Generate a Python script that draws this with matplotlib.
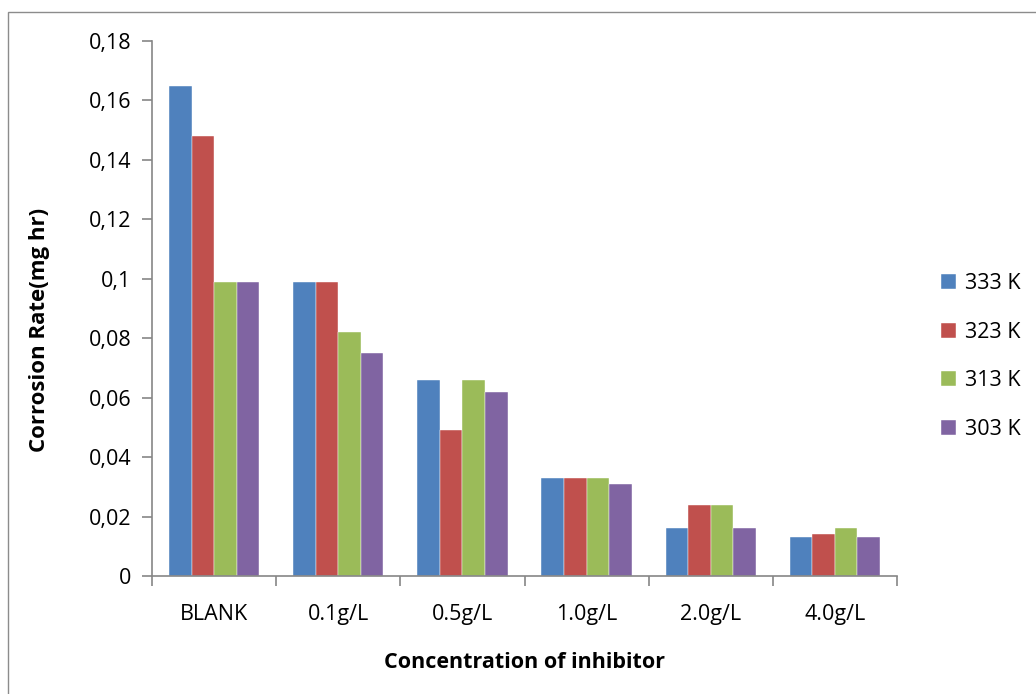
import matplotlib
matplotlib.use("Agg")
import matplotlib.pyplot as plt
import numpy as np
from matplotlib.patches import Rectangle
from matplotlib.ticker import FixedLocator

categories = ["BLANK", "0.1g/L", "0.5g/L", "1.0g/L", "2.0g/L", "4.0g/L"]
series_names = ["333 K", "323 K", "313 K", "303 K"]
s333 = [0.165, 0.099, 0.066, 0.033, 0.016, 0.013]
s323 = [0.148, 0.099, 0.049, 0.033, 0.024, 0.014]
s313 = [0.099, 0.082, 0.066, 0.033, 0.024, 0.016]
s303 = [0.099, 0.075, 0.062, 0.031, 0.016, 0.013]
yticks = [0, 0.02, 0.04, 0.06, 0.08, 0.1, 0.12, 0.14, 0.16, 0.18]
ytick_labels = ["0", "0,02", "0,04", "0,06", "0,08", "0,1", "0,12", "0,14", "0,16", "0,18"]
colors = ["#4F81BD", "#C0504D", "#9BBB59", "#8064A2"]

plt.rcParams['font.family'] = ['Open Sans', 'DejaVu Sans']

fig = plt.figure(figsize=(10.36, 6.94), dpi=100)
fig.patches.append(Rectangle((8/1036, -0.1), 1.2, 1 - 12/694 + 0.1, transform=fig.transFigure,
                             fill=False, edgecolor="#8C8C8C", linewidth=1.0))
ax = fig.add_axes([152/1036, 1 - 576/694, (897 - 152)/1036, (576 - 41)/694])

x = np.arange(len(categories))
w = 1/5.5
data = [s333, s323, s313, s303]
for i, (vals, name, c) in enumerate(zip(data, series_names, colors)):
    ax.bar(x + (i - 1.5) * w, vals, width=w, color=c, label=name, edgecolor="white", linewidth=0.3)

ax.set_xlim(-0.5, len(categories) - 0.5)
ax.set_ylim(0, 0.18)
ax.set_yticks(yticks)
ax.set_yticklabels(ytick_labels, fontsize=15.5)
ax.set_xticks(x)
ax.set_xticklabels(categories, fontsize=15.5)
ax.tick_params(axis='x', which='major', length=0, pad=20)
ax.xaxis.set_minor_locator(FixedLocator(np.arange(-0.5, len(categories), 1.0)))
ax.tick_params(axis='x', which='minor', length=7, color="#868686", width=1.2)
ax.tick_params(axis='y', length=7, color="#868686", width=1.2, pad=8)
for s in ["top", "right"]:
    ax.spines[s].set_visible(False)
for s in ["left", "bottom"]:
    ax.spines[s].set_color("#868686")
    ax.spines[s].set_linewidth(1.2)

fig.text(40/1036, 1 - 330/694, "Corrosion Rate(mg hr)", rotation=90, fontsize=16,
         fontweight="bold", ha="center", va="center")
fig.text(525/1036, 1 - 663/694, "Concentration of inhibitor", fontsize=15.5,
         fontweight="bold", ha="center", va="center")

leg = ax.legend(loc="center left", bbox_to_anchor=(1.033, 0.41), frameon=False, fontsize=15.5,
                handlelength=0.7, handleheight=0.7, labelspacing=1.28, handletextpad=0.4)

fig.savefig("out.png", dpi=100)
